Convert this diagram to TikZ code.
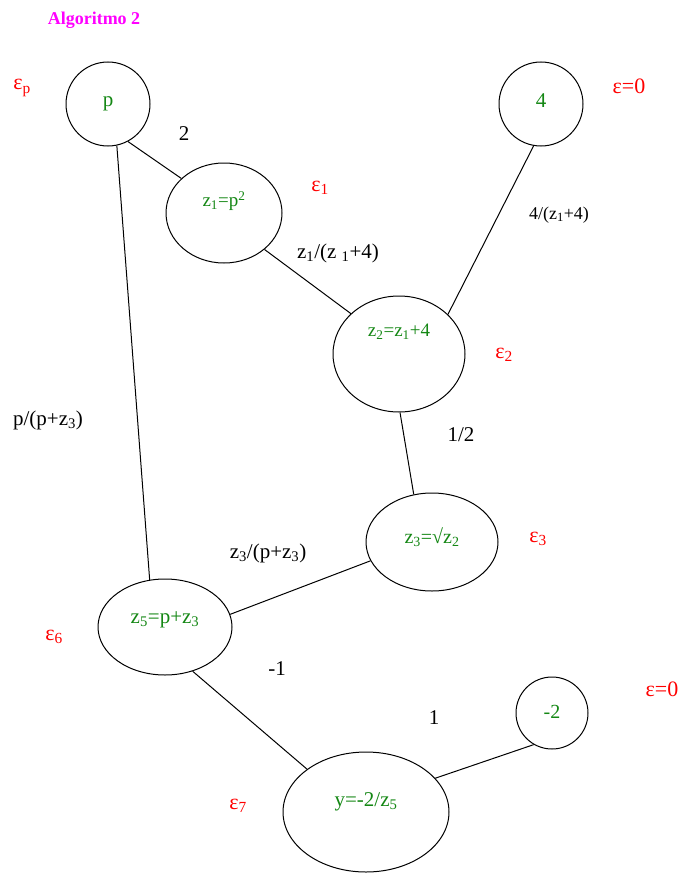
\documentclass[tikz,border=0pt]{standalone}
\usepackage{fontspec}
\setmainfont{Liberation Serif}
\usetikzlibrary{shapes.geometric}
\definecolor{nodegreen}{RGB}{20,135,20}
\definecolor{titlemag}{RGB}{255,0,255}
\tikzset{
  vert/.style={draw=black, line width=1pt, ellipse, inner sep=0pt},
  vtext/.style={text=nodegreen, font=\fontsize{20}{20}\selectfont},
  eps/.style={text=red, font=\fontsize{22}{22}\selectfont},
  wlab/.style={text=black, font=\fontsize{21}{21}\selectfont},
  edge/.style={line width=1pt},
}
\begin{document}
\begin{tikzpicture}[x=1pt,y=-1pt]
\useasboundingbox (0,0) rectangle (682,875);
\node[text=titlemag, font=\bfseries\fontsize{18}{18}\selectfont] (title) at (94,20) {Algoritmo 2};

% vertices
\node[vert, minimum width=84pt, minimum height=84pt, label={[vtext,font=\fontsize{21}{21}\selectfont,yshift=0pt]center:p}] (p) at (108,104) {};
\node[vert, minimum width=116pt, minimum height=100pt, label={[vtext,font=\fontsize{19}{19}\selectfont,yshift=12pt]center:z\textsubscript{1}=p\textsuperscript{2}}] (z1) at (224,213) {};
\node[vert, minimum width=84pt, minimum height=84pt, label={[vtext,font=\fontsize{21}{21}\selectfont,yshift=3pt]center:4}] (four) at (541,104) {};
\node[vert, minimum width=132pt, minimum height=116pt, label={[vtext,font=\fontsize{19}{19}\selectfont,yshift=22pt]center:z\textsubscript{2}=z\textsubscript{1}+4}] (z2) at (399,354) {};
\node[vert, minimum width=132pt, minimum height=98pt, label={[vtext,yshift=5pt]center:z\textsubscript{3}=√z\textsubscript{2}}] (z3) at (432,542) {};
\node[vert, minimum width=134pt, minimum height=96pt, label={[vtext,font=\fontsize{21}{21}\selectfont,yshift=7pt]center:z\textsubscript{5}=p+z\textsubscript{3}}] (z5) at (165,627) {};
\node[vert, minimum width=72pt, minimum height=72pt, label={[vtext,yshift=1pt]center:-2}] (m2) at (552,713) {};
\node[vert, minimum width=166pt, minimum height=120pt, label={[vtext,font=\fontsize{21}{21}\selectfont,yshift=10pt]center:y=-2/z\textsubscript{5}}] (y) at (366,812) {};

% epsilon labels
\node[eps] (ep) at (22,88) {ε\textsubscript{p}};
\node[eps] (e1) at (320,188) {ε\textsubscript{1}};
\node[eps] (e0a) at (629,86) {ε=0};
\node[eps] (e2) at (504,355) {ε\textsubscript{2}};
\node[eps] (e3) at (538,539) {ε\textsubscript{3}};
\node[eps] (e6) at (54,637) {ε\textsubscript{6}};
\node[eps] (e0b) at (662,689) {ε=0};
\node[eps] (e7) at (238,806) {ε\textsubscript{7}};

% edges
\draw[edge] (p.298) -- (z1.141);
\draw[edge] (z1.318) -- (z2.140);
\draw[edge] (four.260) -- (z2.39);
\draw[edge] (p.282) -- (z5.108);
\draw[edge] (z2.271) -- (z3.111);
\draw[edge] (z3.197) -- (z5.11);
\draw[edge] (z5.302) -- (y.144);
\draw[edge] (m2.240) -- (y.26);

% weights
\node[wlab] (w1) at (184,134) {2};
\node[wlab] (w2) at (338,253) {z\textsubscript{1}/(z \textsubscript{1}+4)};
\node[wlab, font=\fontsize{18}{18}\selectfont] (w3) at (559,215) {4/(z\textsubscript{1}+4)};
\node[wlab] (w4) at (48,420) {p/(p+z\textsubscript{3})};
\node[wlab] (w5) at (461,435) {1/2};
\node[wlab] (w6) at (268,553) {z\textsubscript{3}/(p+z\textsubscript{3})};
\node[wlab] (w7) at (277,669) {-1};
\node[wlab] (w8) at (434,718) {1};
\end{tikzpicture}
\end{document}
